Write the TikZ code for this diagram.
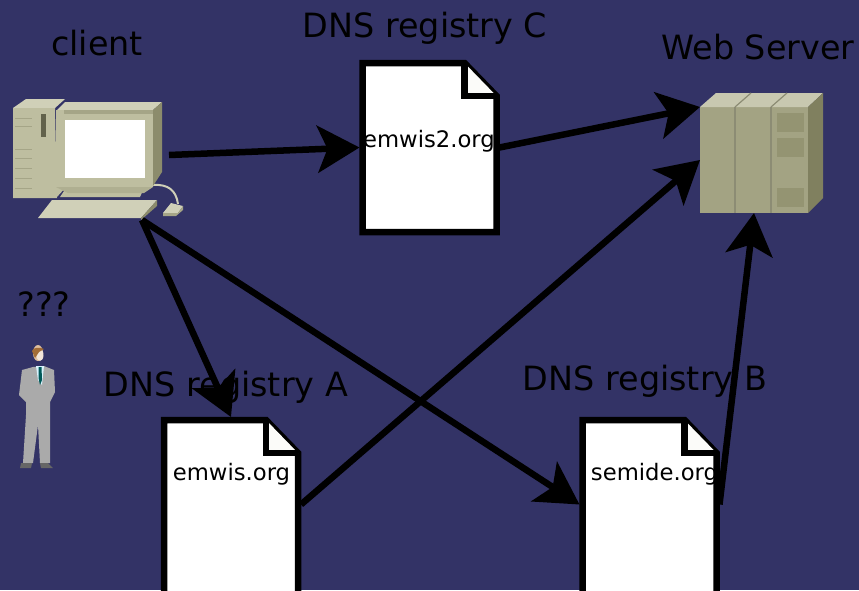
\documentclass[tikz,border=0pt]{standalone}
\usepackage{fontspec}
\setmainfont{DejaVu Sans}
\usetikzlibrary{arrows.meta,calc}
\definecolor{bgblue}{RGB}{51,51,102}
\definecolor{srvfront}{RGB}{163,163,131}
\definecolor{srvtop}{RGB}{200,200,176}
\definecolor{srvside}{RGB}{128,128,95}
\definecolor{srvpanel}{RGB}{148,148,114}
\definecolor{srvline}{RGB}{140,140,116}
\definecolor{pcbody}{RGB}{190,190,160}
\definecolor{pclight}{RGB}{208,208,184}
\definecolor{pcdark}{RGB}{140,140,108}
\definecolor{pcmid}{RGB}{165,165,135}
\definecolor{suit}{RGB}{170,170,170}
\tikzset{
  lbl/.style={anchor=base,inner sep=0pt,outer sep=0pt,text=black,font=\fontsize{33.4}{40}\selectfont},
  doctext/.style={anchor=base,inner sep=0pt,outer sep=0pt,text=black,font=\fontsize{22.7}{28}\selectfont},
  docarea/.style={inner sep=0pt,outer sep=0pt,minimum width=140pt,minimum height=175pt},
  docline/.style={line width=6.5pt,draw=black,miter limit=10},
  area/.style={inner sep=0pt,outer sep=0pt,rectangle},
  link/.style={line width=6.5pt,draw=black,-{Stealth[length=42pt,width=47pt,inset=10pt]}},
}
\newcommand{\docshape}[2]{%
  \filldraw[docline,fill=white]
    ($(#1.north west)+(3,3)$) -- ($(#1.north east)+(-35,3)$) -- ($(#1.north east)+(-3,36)$)
    -- ($(#1.south east)+(-3,#2)$) -- ($(#1.south west)+(3,#2)$) -- cycle;
  \fill[white!92!srvtop] ($(#1.north east)+(-35,3)$) -- ($(#1.north east)+(-3,36)$) -- ($(#1.north east)+(-35,36)$) -- cycle;
  \draw[docline,line join=miter] ($(#1.north east)+(-35,3)$) -- ($(#1.north east)+(-35,36)$) -- ($(#1.north east)+(-3,36)$);
}
\begin{document}
\begin{tikzpicture}[x=1pt,y=-1pt]
\useasboundingbox (0,0) rectangle (859,590);
\fill[bgblue] (0,0) rectangle (859,590);

% labels
\node[lbl] (lclient) at (97,55) {client};
\node[lbl] (lregc) at (425,37) {DNS registry C};
\node[lbl] (lweb) at (758,59) {Web Server};
\node[lbl] (lqq) at (44,316) {???};
\node[lbl] (lrega) at (226,396) {DNS registry A};
\node[lbl] (lregb) at (645,390) {DNS registry B};

% computer
\node[area,minimum width=156pt,minimum height=130pt] (client) at (91,155) {};
\coordinate (clientfoot) at (142,220);
\fill[pclight] (13,108) -- (26,99) -- (65,99) -- (55,108) -- cycle;
\fill[pcbody] (13,108) -- (55,108) -- (57,198) -- (13,198) -- cycle;
\foreach \yy in {118,126,149,158,168,178,188}
  \draw[pcmid,line width=.7pt] (15,\yy) -- (32,\yy);
\fill[pcdark!70!black] (41,114) rectangle (46,137);
\fill[pcbody] (55,186) -- (67,186) -- (56,198) -- cycle;
\draw[pclight,line width=2pt] (153,185) .. controls (168,184) and (176,190) .. (178,204);
\fill[pcbody] (66,188) -- (144,188) -- (140,197) -- (60,197) -- cycle;
\fill[pclight] (65,102) -- (162,102) -- (153,110) -- (57,110) -- cycle;
\fill[pcdark] (153,110) -- (162,102) -- (162,172) -- (153,186) -- cycle;
\fill[pcbody] (56,110) rectangle (153,187);
\fill[pcmid] (64,110) rectangle (153,113.5);
\fill[pcmid!60!pcbody] (56,187) -- (153,187) -- (144,193) -- (68,193) -- cycle;
\fill[white] (65,120) rectangle (145,178);
\fill[pclight] (38,218) -- (52,200) -- (157,200) -- (141,218) -- cycle;
\fill[pcdark] (141,218) -- (157,200) -- (157,206) -- (141,220) -- cycle;
\fill[pclight] (163,213) -- (171,203) -- (183,206) -- (178,213) -- cycle;
\fill[pcmid] (163,213) -- (178,213) -- (183,206) -- (183,210) -- (176,216) -- (163,216) -- cycle;

% person
\fill[suit] (33,367) -- (22,370) -- (19,395) -- (26,402) -- (26,415) -- (23,463) -- (33,463)
  -- (38,425) -- (40,463) -- (50,463) -- (50,402) -- (55,392) -- (54,370) -- (44,366) -- cycle;
\fill[white!85!cyan] (36,366) -- (44,366) -- (42,385) -- (38,380) -- cycle;
\fill[teal!70!black] (38.5,367) -- (41.5,367) -- (42,380) -- (40,385) -- (38.5,378) -- cycle;
\fill[brown!50!white] (38,353) ellipse (5pt and 8pt);
\fill[white!80!brown] (40,355) ellipse (3.5pt and 6pt);
\fill[brown!85!black] (32,351) .. controls (33,347) and (40,347) .. (44,349) -- (39,352) -- (35,358) -- cycle;
\fill[black!60] (21,463) -- (32,463) -- (31,468) -- (20,468) -- cycle;
\fill[black!60] (40,463) -- (48,463) -- (53,468) -- (41,468) -- cycle;

% server
\node[area,fill=srvfront,minimum width=108pt,minimum height=106pt] (server) at (754,160) {};
\fill[srvtop] (server.north west) -- (716,93) -- (823,93) -- (server.north east) -- cycle;
\fill[srvside] (server.north east) -- (823,93) -- (823,198) -- (server.south east) -- cycle;
\foreach \xx in {735,771}{
  \draw[srvline,line width=1.2pt] (\xx,107) -- (\xx,213);
  \draw[srvline,line width=1.2pt] (\xx,107) -- (\xx+16,93);
}
\fill[srvpanel] (777,113) rectangle (804,132);
\fill[srvpanel] (777,138) rectangle (804,157);
\fill[srvpanel] (777,188) rectangle (804,207);

% documents
\node[docarea] (docc) at (429.5,147.5) {};
\docshape{docc}{-3}
\node[doctext] (textc) at (429,147) {emwis2.org};
\node[docarea] (doca) at (231,504.5) {};
\docshape{doca}{20}
\node[doctext] (texta) at (231.5,480) {emwis.org};
\node[docarea] (docb) at (649.5,504.5) {};
\docshape{docb}{20}
\node[doctext] (textb) at (654.5,480) {semide.org};

% connectors
\draw[link] (client.east) -- (docc.west);
\draw[link] (docc.east) -- (server.north west);
\draw[link] (clientfoot) -- (doca.north);
\draw[link] (clientfoot) -- (docb.west);
\draw[link] (doca.east) -- (server.west);
\draw[link] (docb.east) -- (server.south);
\end{tikzpicture}
\end{document}
